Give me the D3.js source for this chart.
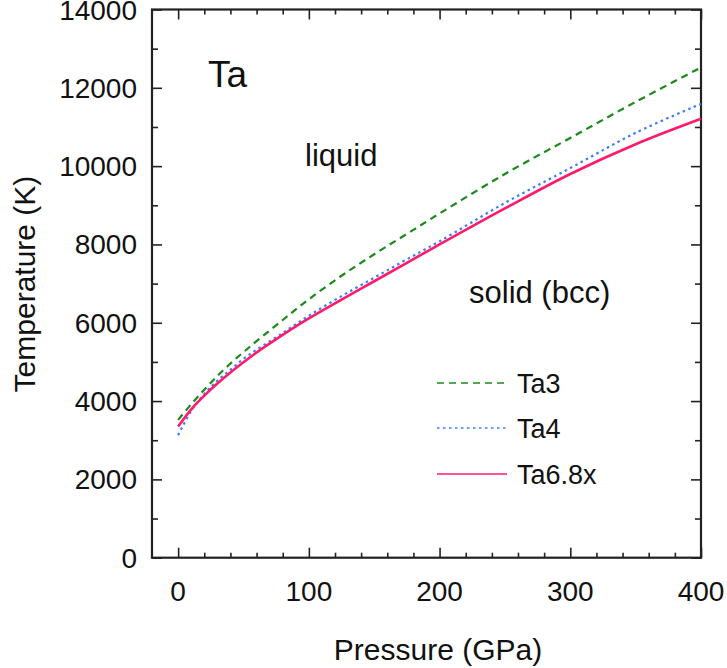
<!DOCTYPE html>
<html lang="en">
<head>
<meta charset="UTF-8">
<title>Ta melting curves</title>
<script src="https://cdn.jsdelivr.net/npm/d3@7/dist/d3.min.js"></script>
<style>
  * { margin: 0; padding: 0; }
  body { background: #fff; width: 727px; height: 668px; overflow: hidden; }
  svg { display: block; font-family: 'Liberation Sans', Arial, sans-serif; }
</style>
</head>
<body>
<svg width="727" height="668"></svg>
<script>
// Melting curves: pressure (GPa) -> temperature (K)
const pressure = [0, 10, 20, 30, 40, 50, 60, 80, 100, 125, 150, 175, 200, 250, 300, 350, 400];
const ta3 = [3520, 3920, 4290, 4640, 4960, 5250, 5530, 6070, 6600, 7200, 7750, 8270, 8790, 9800, 10720, 11640, 12520];
const ta4 = [3130, 3750, 4180, 4520, 4800, 5080, 5310, 5740, 6180, 6680, 7150, 7620, 8080, 9060, 9950, 10850, 11590];
const ta68x = [3350, 3790, 4140, 4450, 4730, 4990, 5240, 5690, 6110, 6590, 7060, 7530, 8000, 8920, 9800, 10560, 11210];

const xTicks = [0, 100, 200, 300, 400];
const yTicks = [0, 2000, 4000, 6000, 8000, 10000, 12000, 14000];

const series = [
  { name: 'Ta3', values: ta3, color: '#1a8a1a', dash: '7,5', width: 2.2 },
  { name: 'Ta4', values: ta4, color: '#3a7cff', dash: '2.5,3.5', width: 2.2 },
  { name: 'Ta6.8x', values: ta68x, color: '#ff1a6c', dash: null, width: 2.6 },
];

const svg = d3.select('svg');
const plotL = 152, plotR = 701, plotT = 9.5, plotB = 557.7;

const x = d3.scaleLinear().domain([-20, 400]).range([plotL, plotR]);
const y = d3.scaleLinear().domain([0, 14000]).range([plotB, plotT]);

const axisColor = '#222';
const minorX = d3.range(0, 401, 20);
const minorY = d3.range(0, 14001, 1000);

// ticks (inward on all four sides)
function ticks(g) {
  g.selectAll('line').attr('stroke', axisColor).attr('stroke-width', 1.6);
  g.select('.domain').remove();
}
svg.append('g').attr('transform', `translate(0,${plotB})`)
  .call(d3.axisBottom(x).tickValues(minorX).tickSizeInner(0).tickSizeOuter(0).tickFormat(''))
  .call(g => g.selectAll('.tick line').attr('y2', d => d % 100 === 0 ? -10 : -5))
  .call(ticks);
svg.append('g').attr('transform', `translate(0,${plotT})`)
  .call(d3.axisTop(x).tickValues(minorX).tickSizeInner(0).tickSizeOuter(0).tickFormat(''))
  .call(g => g.selectAll('.tick line').attr('y2', d => d % 100 === 0 ? 10 : 5))
  .call(ticks);
svg.append('g').attr('transform', `translate(${plotL},0)`)
  .call(d3.axisLeft(y).tickValues(minorY).tickSizeInner(0).tickSizeOuter(0).tickFormat(''))
  .call(g => g.selectAll('.tick line').attr('x2', d => d % 2000 === 0 ? 10 : 6))
  .call(ticks);
svg.append('g').attr('transform', `translate(${plotR},0)`)
  .call(d3.axisRight(y).tickValues(minorY).tickSizeInner(0).tickSizeOuter(0).tickFormat(''))
  .call(g => g.selectAll('.tick line').attr('x2', d => d % 2000 === 0 ? -10 : -6))
  .call(ticks);

// frame
svg.append('rect')
  .attr('x', plotL).attr('y', plotT)
  .attr('width', plotR - plotL).attr('height', plotB - plotT)
  .attr('fill', 'none').attr('stroke', axisColor).attr('stroke-width', 2.2);

// tick labels
svg.append('g').selectAll('text').data(xTicks).join('text')
  .attr('x', d => x(d)).attr('y', 601)
  .attr('text-anchor', 'middle').attr('font-size', 28).attr('fill', '#111')
  .text(d => d);
svg.append('g').selectAll('text').data(yTicks).join('text')
  .attr('x', 137).attr('y', d => y(d) + 10)
  .attr('text-anchor', 'end').attr('font-size', 28).attr('fill', '#111')
  .text(d => d);

// curves
const line = d3.line().x((d, i) => x(pressure[i])).y(d => y(d)).curve(d3.curveCatmullRom.alpha(0.5));
svg.append('g').selectAll('path').data(series).join('path')
  .attr('d', d => line(d.values))
  .attr('fill', 'none')
  .attr('stroke', d => d.color)
  .attr('stroke-width', d => d.width)
  .attr('stroke-dasharray', d => d.dash);

// axis titles
svg.append('text')
  .attr('x', 438).attr('y', 660)
  .attr('text-anchor', 'middle').attr('font-size', 30).attr('fill', '#111')
  .text('Pressure (GPa)');
svg.append('text')
  .attr('transform', 'translate(35,284) rotate(-90)')
  .attr('text-anchor', 'middle').attr('font-size', 30).attr('fill', '#111')
  .text('Temperature (K)');

// annotations
svg.append('text').attr('x', 208).attr('y', 87).attr('font-size', 37).attr('fill', '#111').text('Ta');
svg.append('text').attr('x', 305).attr('y', 166).attr('font-size', 31).attr('fill', '#111').text('liquid');
svg.append('text').attr('x', 469).attr('y', 303).attr('font-size', 31).attr('fill', '#111').text('solid (bcc)');

// legend
const legendY = [383, 428, 474];
const legend = svg.append('g').selectAll('g').data(series).join('g')
  .attr('transform', (d, i) => `translate(0,${legendY[i]})`);
legend.append('line')
  .attr('x1', 437).attr('x2', 507)
  .attr('stroke', d => d.color).attr('stroke-width', 1.6)
  .attr('stroke-dasharray', d => d.dash);
legend.append('text')
  .attr('x', 517).attr('y', 9.5)
  .attr('font-size', 27).attr('fill', '#111')
  .text(d => d.name);
</script>
</body>
</html>
